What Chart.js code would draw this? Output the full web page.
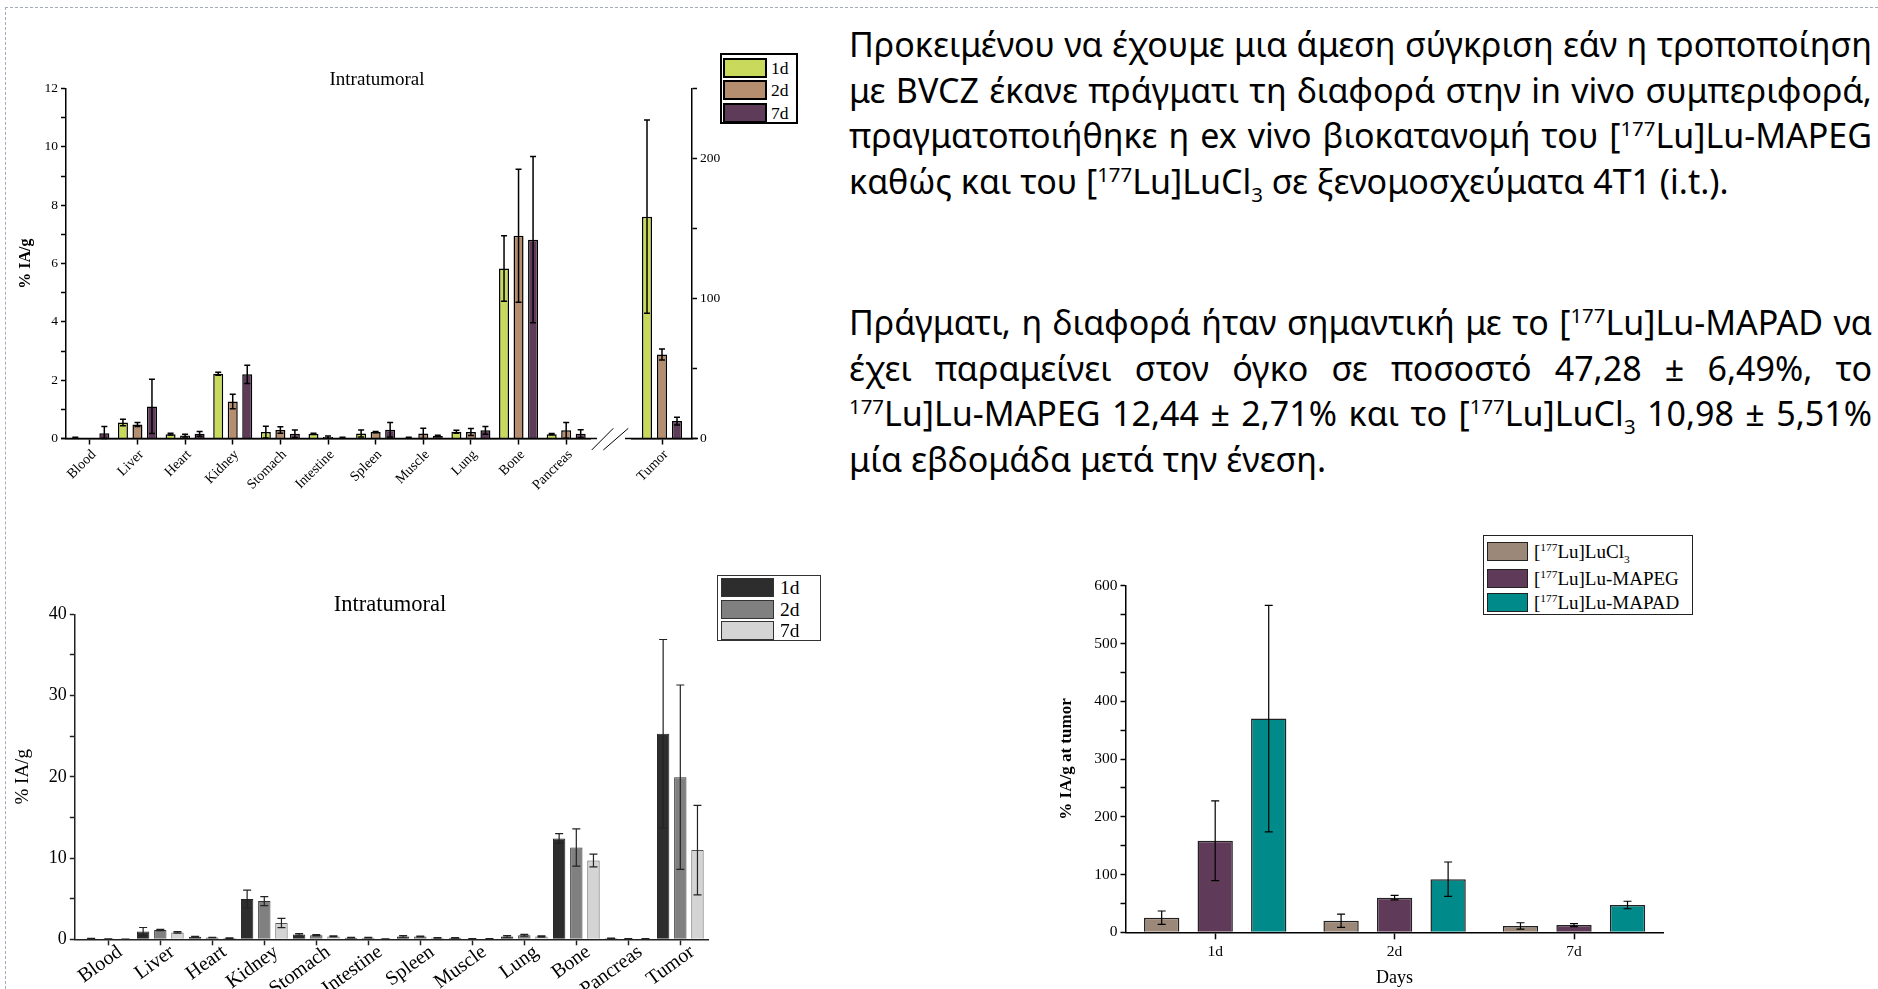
<!DOCTYPE html>
<html>
<head>
<meta charset="utf-8">
<script src="https://cdn.jsdelivr.net/npm/chart.js@4.4.1/dist/chart.umd.min.js"></script>
<style>
  html, body { margin: 0; padding: 0; background: #fff; }
  body { width: 1878px; height: 989px; position: relative; overflow: hidden; }
  .frame-top { position: absolute; left: 5px; top: 7px; width: 1873px; border-top: 1.5px dashed #a3abbd; }
  .frame-left { position: absolute; left: 5px; top: 7px; height: 982px; border-left: 1.5px dashed #a3abbd; }
  canvas { position: absolute; }
  .title { position: absolute; font-family: 'Liberation Serif'; transform: translate(-50%, -50%); white-space: nowrap; color: #000; }
  .legend { position: absolute; background: #fff; font-family: 'Liberation Serif'; box-sizing: border-box; color: #000; }
  .legend .sw { position: absolute; box-sizing: border-box; }
  .legend .lab { position: absolute; transform: translateY(-50%); white-space: nowrap; }
  .text { position: absolute; left: 849px; width: 1023px; font-family: 'Noto Sans'; font-size: 34px; color: #000; }
  .text div { height: 45.7px; line-height: 45.7px; text-align: justify; text-align-last: justify; white-space: nowrap; }
  .text div.last { text-align-last: left; }
  sup, sub { font-size: 60%; line-height: 0; }
</style>
</head>
<body>
<div class="frame-top"></div>
<div class="frame-left"></div>

<div class="text" style="top:22px">
  <div>Προκειμένου να έχουμε μια άμεση σύγκριση εάν η τροποποίηση</div>
  <div>με BVCZ έκανε πράγματι τη διαφορά στην in vivo συμπεριφορά,</div>
  <div>πραγματοποιήθηκε η ex vivo βιοκατανομή του [<sup>177</sup>Lu]Lu-MAPEG</div>
  <div class="last">καθώς και του [<sup>177</sup>Lu]LuCl<sub>3</sub> σε ξενομοσχεύματα 4T1 (i.t.).</div>
</div>
<div class="text" style="top:300px">
  <div>Πράγματι, η διαφορά ήταν σημαντική με το [<sup>177</sup>Lu]Lu-MAPAD να</div>
  <div>έχει παραμείνει στον όγκο σε ποσοστό 47,28 ± 6,49%, το</div>
  <div><sup>177</sup>Lu]Lu-MAPEG 12,44 ± 2,71% και το [<sup>177</sup>Lu]LuCl<sub>3</sub> 10,98 ± 5,51%</div>
  <div class="last">μία εβδομάδα μετά την ένεση.</div>
</div>

<canvas id="c1a" width="640" height="500" style="left:0;top:0"></canvas>
<canvas id="c1b" width="150" height="500" style="left:610px;top:0"></canvas>
<canvas id="c2" width="720" height="449" style="left:0;top:540px"></canvas>
<canvas id="c3" width="700" height="469" style="left:1040px;top:520px"></canvas>

<div class="title" style="left:377px;top:79px;font-size:19px">Intratumoral</div>
<div class="title" style="left:390px;top:604px;font-size:22.5px">Intratumoral</div>

<div id="leg1" class="legend"></div>
<div id="leg2" class="legend"></div>
<div id="leg3" class="legend"></div>

<script>
// categories
const organs = ["Blood", "Liver", "Heart", "Kidney", "Stomach", "Intestine", "Spleen", "Muscle", "Lung", "Bone", "Pancreas"];
const organsWithTumor = organs.concat(["Tumor"]);
const days = ["1d", "2d", "7d"];
const tumorCategory = ["Tumor"];

// [177Lu]Lu-MAPEG, organs (% IA/g)
const mapeg1d = [0.03, 0.55, 0.15, 2.22, 0.22, 0.16, 0.17, 0.03, 0.23, 5.83, 0.15];
const mapeg1dErr = [0.01, 0.11, 0.03, 0.05, 0.2, 0.02, 0.12, 0.01, 0.05, 1.12, 0.02];
const mapeg2d = [0.01, 0.48, 0.1, 1.27, 0.29, 0.05, 0.22, 0.17, 0.22, 6.95, 0.28];
const mapeg2dErr = [0, 0.07, 0.05, 0.25, 0.11, 0.04, 0.02, 0.18, 0.12, 2.28, 0.27];
const mapeg7d = [0.18, 1.1, 0.16, 2.2, 0.16, 0.03, 0.3, 0.09, 0.28, 6.82, 0.16];
const mapeg7dErr = [0.23, 0.93, 0.08, 0.31, 0.13, 0.01, 0.25, 0.02, 0.13, 2.85, 0.14];

// tumor uptake at 1d, 2d, 7d
const tumorLuCl3 = [25.3, 19.95, 10.98];
const tumorLuCl3Err = [11.6, 11.35, 5.51];
const tumorMapeg = [158.5, 60, 12.44];
const tumorMapegErr = [69, 4, 2.71];
const tumorMapad = [370, 92, 47.28];
const tumorMapadErr = [196, 29.7, 6.49];

// [177Lu]LuCl3, organs + tumor (% IA/g)
const lucl1d = [0.1, 0.95, 0.3, 4.95, 0.6, 0.2, 0.35, 0.18, 0.35, 12.4, 0.12, 25.3];
const lucl1dErr = [0.02, 0.5, 0.05, 1.1, 0.1, 0.03, 0.1, 0.03, 0.1, 0.6, 0.03, 11.6];
const lucl2d = [0.05, 1.15, 0.22, 4.7, 0.5, 0.2, 0.35, 0.07, 0.5, 11.3, 0.07, 19.95];
const lucl2dErr = [0.01, 0.08, 0.03, 0.55, 0.08, 0.03, 0.05, 0.02, 0.1, 2.3, 0.02, 11.35];
const lucl7d = [0.02, 0.85, 0.15, 2.0, 0.35, 0.05, 0.18, 0.08, 0.35, 9.7, 0.08, 10.98];
const lucl7dErr = [0.01, 0.1, 0.03, 0.57, 0.06, 0.01, 0.04, 0.02, 0.08, 0.78, 0.02, 5.51];

// ticks
const ticks1Left = [0, 2, 4, 6, 8, 10, 12];
const ticks1Right = [0, 100, 200];
const ticks2 = [0, 10, 20, 30, 40];
const ticks3 = [0, 100, 200, 300, 400, 500, 600];

const colors1 = ["#c8d95b", "#b48e6e", "#5e3b59"];
const colors2 = ["#2d2d2d", "#808080", "#d4d4d4"];
const colors3 = ["#9b8878", "#5f3b59", "#008a8a"];
const labels3 = ["[<sup>177</sup>Lu]LuCl<sub>3</sub>", "[<sup>177</sup>Lu]Lu-MAPEG", "[<sup>177</sup>Lu]Lu-MAPAD"];

const serif = "Liberation Serif";

// error bars, drawn from each dataset's errors array
const errorBars = {
  id: "errorBars",
  afterDatasetsDraw(chart, args, opts) {
    const ctx = chart.ctx;
    chart.data.datasets.forEach((ds, i) => {
      const meta = chart.getDatasetMeta(i);
      const yScale = chart.scales[meta.yAxisID];
      meta.data.forEach((bar, j) => {
        const e = ds.errors[j];
        if (!e) return;
        const d = ds.data[j];
        const v = typeof d === "object" ? d.y : d;
        const top = yScale.getPixelForValue(v + e);
        const bot = yScale.getPixelForValue(Math.max(v - e, 0));
        ctx.save();
        ctx.strokeStyle = opts.color;
        ctx.lineWidth = opts.width;
        ctx.beginPath();
        ctx.moveTo(bar.x, top); ctx.lineTo(bar.x, bot);
        ctx.moveTo(bar.x - opts.cap, top); ctx.lineTo(bar.x + opts.cap, top);
        ctx.moveTo(bar.x - opts.cap, bot); ctx.lineTo(bar.x + opts.cap, bot);
        ctx.stroke();
        ctx.restore();
      });
    });
  }
};

// x axis line extension and the // break mark of the first chart
const axisExtend = {
  id: "axisExtend",
  afterDraw(chart, args, opts) {
    const ctx = chart.ctx;
    const y = chart.chartArea.bottom;
    ctx.save();
    ctx.strokeStyle = "#000";
    ctx.lineWidth = 1.5;
    ctx.beginPath();
    ctx.moveTo(opts.from, y); ctx.lineTo(opts.to, y);
    ctx.stroke();
    ctx.lineWidth = 1;
    ctx.beginPath();
    (opts.slashes || []).forEach(s => { ctx.moveTo(s[0], y + s[1]); ctx.lineTo(s[2], y + s[3]); });
    ctx.stroke();
    ctx.restore();
  }
};

function makeSet(label, data, errors, color, border, bw, cp, bp) {
  return { label, data, errors, backgroundColor: color, borderColor: border, borderWidth: bw,
    categoryPercentage: cp, barPercentage: bp, borderSkipped: "start" };
}

function xAxis(size, height, rotation, color) {
  return {
    grid: { drawOnChartArea: false, offset: false, tickLength: 6, color: color, tickWidth: 1.5 },
    border: { color: color, width: 1.5 },
    ticks: { font: { family: serif, size }, color: "#000", minRotation: rotation, maxRotation: rotation, padding: 2, autoSkip: false },
    afterFit: s => { s.height = height; }
  };
}

function yAxis(min, max, step, shown, size, width, color) {
  return {
    min, max,
    grid: { drawOnChartArea: false, tickLength: 5, color: color, tickWidth: 1.5 },
    border: { color: color, width: 1.5 },
    ticks: { stepSize: step, font: { family: serif, size }, color: "#000", padding: 3,
      callback: v => shown.includes(v) ? v : "" },
    afterFit: s => { s.width = width; }
  };
}

const baseOptions = {
  responsive: false,
  animation: false,
  events: []
};

// chart 1: Lu-MAPEG organs
const x1 = xAxis(14, 61.5, 45, "#000");
x1.ticks.labelOffset = 4;
const y1 = yAxis(0, 12, 1, ticks1Left, 13.5, 66, "#000");
y1.title = { display: true, text: "% IA/g", font: { family: serif, size: 16, weight: "bold" }, color: "#000", padding: { top: 16, bottom: 0 } };
new Chart(document.getElementById("c1a"), {
  type: "bar",
  data: {
    labels: organs,
    datasets: [
      makeSet(days[0], mapeg1d, mapeg1dErr, colors1[0], "#000", 1.5, 0.914, 0.69),
      makeSet(days[1], mapeg2d, mapeg2dErr, colors1[1], "#000", 1.5, 0.914, 0.69),
      makeSet(days[2], mapeg7d, mapeg7dErr, colors1[2], "#000", 1.5, 0.914, 0.69)
    ]
  },
  options: Object.assign({}, baseOptions, {
    layout: { padding: { left: 0, right: 50, top: 88.6, bottom: 0 } },
    plugins: {
      legend: { display: false }, tooltip: { enabled: false },
      errorBars: { color: "#000", width: 1.5, cap: 3 },
      axisExtend: { from: 61, to: 597, slashes: [[591.7, 11.5, 613.3, -10.2], [603.3, 11.5, 628.3, -10.2]] }
    },
    scales: { x: x1, y: y1 }
  }),
  plugins: [errorBars, axisExtend]
});

// chart 1: tumor on the right axis
const x1r = xAxis(14, 61.5, 45, "#000");
x1r.ticks.labelOffset = 4;
const y1r = yAxis(0, 250, 50, ticks1Right, 13.5, 68, "#000");
y1r.position = "right";
new Chart(document.getElementById("c1b"), {
  type: "bar",
  data: {
    labels: tumorCategory,
    datasets: [
      makeSet(days[0], [tumorMapeg[0]], [tumorMapegErr[0]], colors1[0], "#000", 1.5, 0.75, 0.67),
      makeSet(days[1], [tumorMapeg[1]], [tumorMapegErr[1]], colors1[1], "#000", 1.5, 0.75, 0.67),
      makeSet(days[2], [tumorMapeg[2]], [tumorMapegErr[2]], colors1[2], "#000", 1.5, 0.75, 0.67)
    ]
  },
  options: Object.assign({}, baseOptions, {
    layout: { padding: { left: 22, right: 0, top: 88.6, bottom: 0 } },
    plugins: {
      legend: { display: false }, tooltip: { enabled: false },
      errorBars: { color: "#000", width: 1.5, cap: 3 },
      axisExtend: { from: 15, to: 88 }
    },
    scales: { x: x1r, y: y1r }
  }),
  plugins: [errorBars, axisExtend]
});

// chart 2: LuCl3 organs + tumor, on a numeric x axis so the first organ sits off the y axis
const toPoints = arr => arr.map((v, i) => ({ x: i, y: v }));
const x2 = xAxis(20, 49.7, 36, "#222");
x2.type = "linear";
x2.offset = false;
x2.min = -0.644;
x2.max = 11.546;
x2.ticks.stepSize = 1;
x2.ticks.includeBounds = false;
x2.ticks.labelOffset = 12;
x2.ticks.padding = -5;
x2.ticks.callback = v => Number.isInteger(v) ? organsWithTumor[v] : "";
const y2 = yAxis(0, 40, 5, ticks2, 18, 74.8, "#222");
y2.title = { display: true, text: "% IA/g", font: { family: serif, size: 19 }, color: "#000", padding: { top: 12, bottom: 0 } };
new Chart(document.getElementById("c2"), {
  type: "bar",
  data: {
    datasets: [
      makeSet(days[0], toPoints(lucl1d), lucl1dErr, colors2[0], "#222", 1, 0.99, 0.72),
      makeSet(days[1], toPoints(lucl2d), lucl2dErr, colors2[1], "#333", 1, 0.99, 0.72),
      makeSet(days[2], toPoints(lucl7d), lucl7dErr, colors2[2], "#555", 1, 0.99, 0.72)
    ]
  },
  options: Object.assign({}, baseOptions, {
    layout: { padding: { left: 0, right: 11.3, top: 74.3, bottom: 0 } },
    plugins: {
      legend: { display: false }, tooltip: { enabled: false },
      errorBars: { color: "#222", width: 1.2, cap: 4 }
    },
    scales: { x: x2, y: y2 }
  }),
  plugins: [errorBars]
});

// chart 3: tumor uptake by day
const x3 = xAxis(15.5, 56.7, 0, "#000");
x3.grid.tickLength = 7;
x3.ticks.padding = 3;
x3.title = { display: true, text: "Days", font: { family: serif, size: 18 }, color: "#000", padding: { top: 0, bottom: 0.2 } };
const y3 = yAxis(0, 600, 50, ticks3, 15.5, 85.5, "#000");
y3.title = { display: true, text: "% IA/g at tumor", font: { family: serif, size: 17, weight: "bold" }, color: "#000", padding: { top: 16, bottom: 0 } };
new Chart(document.getElementById("c3"), {
  type: "bar",
  data: {
    labels: days,
    datasets: [
      makeSet("LuCl3", tumorLuCl3, tumorLuCl3Err, colors3[0], "#222", 1.5, 0.895, 0.66),
      makeSet("Lu-MAPEG", tumorMapeg, tumorMapegErr, colors3[1], "#222", 1.5, 0.895, 0.66),
      makeSet("Lu-MAPAD", tumorMapad, tumorMapadErr, colors3[2], "#222", 1.5, 0.895, 0.66)
    ]
  },
  options: Object.assign({}, baseOptions, {
    layout: { padding: { left: 0, right: 76.3, top: 65.7, bottom: 0 } },
    plugins: {
      legend: { display: false }, tooltip: { enabled: false },
      errorBars: { color: "#000", width: 1.2, cap: 4 }
    },
    scales: { x: x3, y: y3 }
  }),
  plugins: [errorBars]
});

// legends as boxed html
function buildLegend(id, box, rows, swatch, textX, fontSize, names, colors, border) {
  const el = document.getElementById(id);
  el.style.left = box[0] + "px";
  el.style.top = box[1] + "px";
  el.style.width = box[2] + "px";
  el.style.height = box[3] + "px";
  el.style.border = border;
  el.style.fontSize = fontSize + "px";
  names.forEach((name, i) => {
    const sw = document.createElement("div");
    sw.className = "sw";
    sw.style.left = swatch[0] + "px";
    sw.style.width = swatch[1] + "px";
    sw.style.top = rows[i][0] + "px";
    sw.style.height = rows[i][1] + "px";
    sw.style.background = colors[i];
    sw.style.border = swatch[2];
    el.appendChild(sw);
    const lab = document.createElement("div");
    lab.className = "lab";
    lab.style.left = textX + "px";
    lab.style.top = (rows[i][0] + rows[i][1] / 2) + "px";
    lab.innerHTML = name;
    el.appendChild(lab);
  });
}

buildLegend("leg1", [720, 53, 78, 71], [[3, 20], [25, 20], [48, 20]], [1, 44, "2px solid #000"], 49, 17.5, days, colors1, "2px solid #000");
buildLegend("leg2", [717, 575, 104, 66], [[2, 19], [24, 19], [45, 19]], [3, 53, "1px solid #333"], 62, 19.5, days, colors2, "1px solid #333");
buildLegend("leg3", [1483, 535, 210, 80], [[6, 19], [33, 19], [57, 19]], [3, 41, "1.5px solid #222"], 50, 19, labels3, colors3, "1.5px solid #222");
</script>
</body>
</html>
